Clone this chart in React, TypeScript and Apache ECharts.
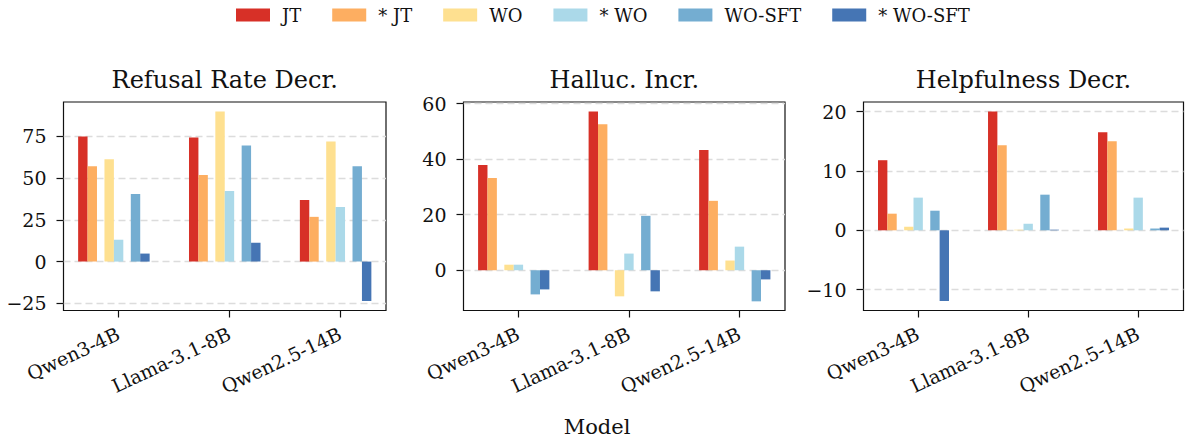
import React, { useEffect, useRef } from 'react';
import * as echarts from 'echarts';

const models = ['Qwen3-4B', 'Llama-3.1-8B', 'Qwen2.5-14B'];
const methods = ['JT', '* JT', 'WO', '* WO', 'WO-SFT', '* WO-SFT'];
const colors = ['#d73027', '#fdae61', '#fee090', '#abd9e9', '#74add1', '#4575b4'];
const panelTitles = ['Refusal Rate Decr.', 'Halluc. Incr.', 'Helpfulness Decr.'];

// Refusal Rate Decr. (values per model: Qwen3-4B, Llama-3.1-8B, Qwen2.5-14B)
const refusalJT = [75.0, 74.4, 36.9];
const refusalJTStar = [57.1, 51.8, 26.8];
const refusalWO = [61.3, 89.9, 72.0];
const refusalWOStar = [13.1, 42.3, 32.7];
const refusalWOSFT = [40.5, 69.6, 57.1];
const refusalWOSFTStar = [4.8, 11.3, -23.6];

// Halluc. Incr.
const hallucJT = [37.9, 57.2, 43.3];
const hallucJTStar = [33.2, 52.6, 25.0];
const hallucWO = [2.0, -9.4, 3.5];
const hallucWOStar = [2.0, 6.0, 8.5];
const hallucWOSFT = [-8.7, 19.6, -11.2];
const hallucWOSFTStar = [-6.9, -7.6, -3.3];

// Helpfulness Decr.
const helpJT = [11.8, 20.0, 16.5];
const helpJTStar = [2.8, 14.3, 15.0];
const helpWO = [0.6, 0.1, 0.3];
const helpWOStar = [5.5, 1.1, 5.5];
const helpWOSFT = [3.3, 6.0, 0.3];
const helpWOSFTStar = [-11.9, 0.1, 0.45];

const refusalTicks = [-25, 0, 25, 50, 75];
const hallucTicks = [0, 20, 40, 60];
const helpTicks = [-10, 0, 10, 20];

const panels = [
  { title: panelTitles[0], ticks: refusalTicks, min: -29.3, max: 95.6,
    series: [refusalJT, refusalJTStar, refusalWO, refusalWOStar, refusalWOSFT, refusalWOSFTStar] },
  { title: panelTitles[1], ticks: hallucTicks, min: -14.5, max: 60.6,
    series: [hallucJT, hallucJTStar, hallucWO, hallucWOStar, hallucWOSFT, hallucWOSFTStar] },
  { title: panelTitles[2], ticks: helpTicks, min: -13.5, max: 21.6,
    series: [helpJT, helpJTStar, helpWO, helpWOStar, helpWOSFT, helpWOSFTStar] },
];

const FONT = '"DejaVu Serif", "Liberation Serif", serif';
const barOffsets = [-0.3215, -0.2365, -0.084, 0.001, 0.1535, 0.2385];
const barW = 0.085;
const gridLefts = [63.5, 463.5, 863.5];
const gridWidths = [322.5, 321.5, 320];
const gridTop = 102;
const gridHeight = 208.5;

const minus = (v: number) => String(v).replace('-', '\u2212');

export default function App() {
  const ref = useRef<HTMLDivElement>(null);
  useEffect(() => {
    if (!ref.current) return;
    const chart = echarts.init(ref.current, undefined, { renderer: 'svg' });
    const grids: any[] = [];
    const xAxes: any[] = [];
    const yAxes: any[] = [];
    const series: any[] = [];
    const graphics: any[] = [];
    panels.forEach((p, k) => {
      grids.push({
        left: gridLefts[k], top: gridTop, width: gridWidths[k], height: gridHeight,
        show: true, borderColor: '#111', borderWidth: 1.2, backgroundColor: 'transparent',
      });
      xAxes.push({
        type: 'value', gridIndex: k, min: -0.496, max: 2.413, position: 'bottom',
        axisLine: { show: false, onZero: false },
        splitLine: { show: false },
        axisTick: { show: true, customValues: [0, 1, 2], length: 7, lineStyle: { color: '#111', width: 1.2 } },
        axisLabel: {
          customValues: [0, 1, 2], rotate: 25, margin: 22,
          formatter: (v: number) => models[Math.round(v)] ?? '',
          fontFamily: FONT, fontSize: 19, color: '#111',
        },
      });
      yAxes.push({
        type: 'value', gridIndex: k, min: p.min, max: p.max, position: 'left',
        axisLine: { show: false, onZero: false },
        axisTick: { show: true, customValues: p.ticks, length: 7, lineStyle: { color: '#111', width: 1.2 } },
        axisLabel: {
          customValues: p.ticks, margin: 17,
          formatter: (v: number) => minus(v),
          fontFamily: FONT, fontSize: 19, color: '#111',
        },
        splitLine: { show: true, lineStyle: { color: '#dcdcdc', type: [7, 4], width: 1.3 } },
      });
      p.series.forEach((vals, j) => {
        series.push({
          type: 'custom', name: methods[j], xAxisIndex: k, yAxisIndex: k,
          itemStyle: { color: colors[j] },
          encode: { x: 0, y: 1 },
          data: vals.map((v, i) => [i, v]),
          renderItem: (params: any, api: any) => {
            const xc = api.value(0) + barOffsets[j];
            const v = api.value(1);
            const a = api.coord([xc - barW / 2, 0]);
            const b = api.coord([xc + barW / 2, v]);
            return {
              type: 'rect',
              shape: { x: a[0], y: Math.min(a[1], b[1]), width: b[0] - a[0], height: Math.abs(b[1] - a[1]) },
              style: { fill: colors[j] },
            };
          },
        });
      });
      graphics.push({
        type: 'text', x: gridLefts[k] + gridWidths[k] / 2, y: 80,
        style: { text: p.title, align: 'center', verticalAlign: 'middle', fontFamily: FONT, fontSize: 24, fill: '#111' },
      });
    });
    graphics.push({
      type: 'text', x: 597, y: 427,
      style: { text: 'Model', align: 'center', verticalAlign: 'middle', fontFamily: FONT, fontSize: 21, fill: '#111' },
    });
    chart.setOption({
      animation: false,
      backgroundColor: '#fff',
      legend: {
        data: methods, top: 1, left: 231, icon: 'rect',
        itemWidth: 34, itemHeight: 13, itemGap: 31,
        textStyle: { fontFamily: FONT, fontSize: 18, color: '#111', padding: [0, 0, 0, 7] },
      },
      grid: grids, xAxis: xAxes, yAxis: yAxes, series, graphic: graphics,
    });
    return () => chart.dispose();
  }, []);
  return <div ref={ref} style={{ position: 'absolute', left: 0, top: 0, width: 1186, height: 441 }} />;
}
